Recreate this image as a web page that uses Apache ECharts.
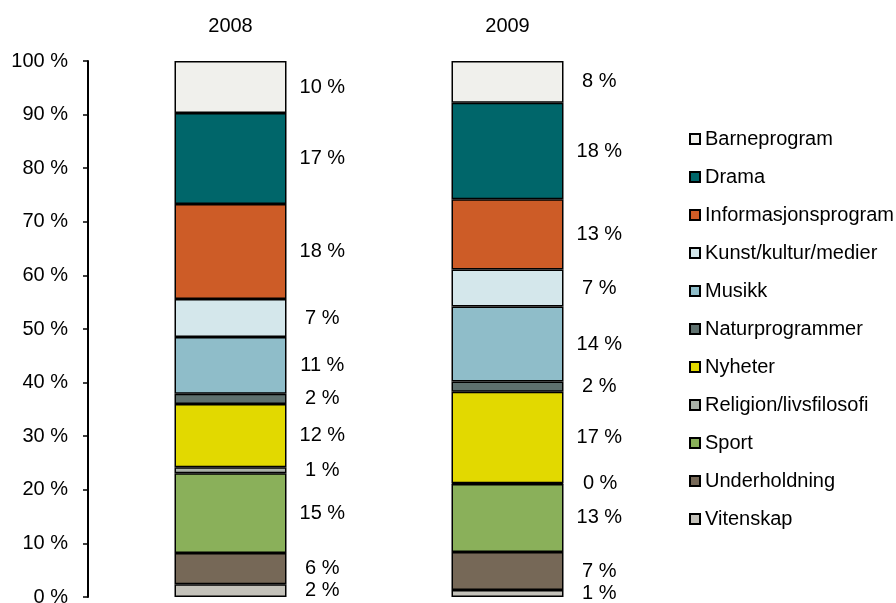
<!DOCTYPE html>
<html>
<head>
<meta charset="utf-8">
<script src="https://cdn.jsdelivr.net/npm/echarts@6/dist/echarts.min.js"></script>
<style>
  html, body { margin: 0; padding: 0; background: #fff; }
  #chart { width: 896px; height: 603px; }
</style>
</head>
<body>
<div id="chart"></div>
<script>
const years = ['2008', '2009']

// share of broadcast time, percent (bottom of stack first)
const vitenskap = [2.4, 1.3]
const underholdning = [5.8, 7.1]
const sport = [14.9, 12.7]
const religion = [1.1, 0.1]
const nyheter = [11.8, 17.1]
const naturprogrammer = [1.9, 1.9]
const musikk = [10.6, 14.0]
const kunst = [7.1, 6.9]
const informasjon = [17.7, 13.1]
const drama = [17.0, 18.0]
const barneprogram = [9.7, 7.8]

const yTicks = [0, 10, 20, 30, 40, 50, 60, 70, 80, 90, 100]

const layers = [
  ['Vitenskap', vitenskap, '#c4c2ba'],
  ['Underholdning', underholdning, '#766857'],
  ['Sport', sport, '#8ab05a'],
  ['Religion/livsfilosofi', religion, '#aab2a8'],
  ['Nyheter', nyheter, '#e2d900'],
  ['Naturprogrammer', naturprogrammer, '#5e706e'],
  ['Musikk', musikk, '#8fbdc9'],
  ['Kunst/kultur/medier', kunst, '#d4e7eb'],
  ['Informasjonsprogram', informasjon, '#cd5c27'],
  ['Drama', drama, '#00666a'],
  ['Barneprogram', barneprogram, '#f0f0ec'],
]

const font = '"Liberation Sans", Arial, sans-serif'

const chart = echarts.init(document.getElementById('chart'), null, { renderer: 'canvas' })
chart.setOption({
  animation: false,
  textStyle: { fontFamily: font },
  grid: { left: 92, width: 554, top: 61, bottom: 6, outerBoundsMode: 'none' },
  legend: {
    orient: 'vertical',
    left: 684,
    top: 124,
    itemWidth: 10,
    itemHeight: 10,
    itemGap: 18,
    icon: 'rect',
    data: layers.map(l => l[0]).reverse(),
    textStyle: { fontSize: 20, color: '#000', fontFamily: font, lineHeight: 20 },
  },
  xAxis: {
    type: 'category',
    position: 'top',
    data: years,
    axisLine: { show: false },
    axisTick: { show: false },
    axisLabel: { fontSize: 20, color: '#000', margin: 25 },
  },
  yAxis: {
    type: 'value',
    min: yTicks[0],
    max: yTicks[yTicks.length - 1],
    interval: 10,
    offset: 4,
    splitLine: { show: false },
    axisLine: { show: true, lineStyle: { color: '#000', width: 2 } },
    axisTick: { show: true, length: 5, lineStyle: { color: '#000', width: 1.5 } },
    axisLabel: { fontSize: 20, color: '#000', margin: 20, formatter: '{value} %' },
  },
  series: layers.map(([name, data, color]) => ({
    name,
    type: 'bar',
    stack: 'share',
    barWidth: 112,
    data,
    itemStyle: { color, borderColor: '#000', borderWidth: 1.5 },
    label: {
      show: true,
      position: ['132%', '50%'],
      align: 'center',
      verticalAlign: 'middle',
      fontSize: 20,
      color: '#000',
      formatter: p => Math.round(p.value) + ' %',
    },
  })),
})
</script>
</body>
</html>
